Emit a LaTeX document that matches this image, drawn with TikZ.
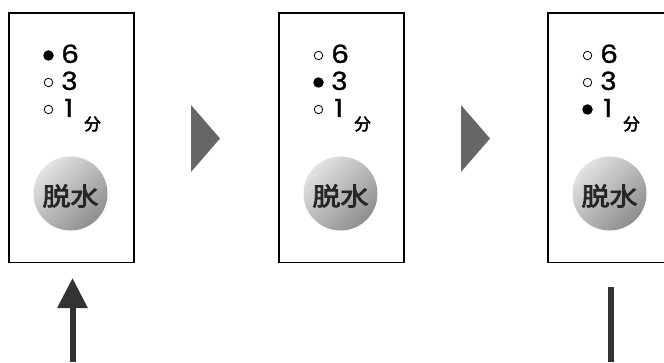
\documentclass[tikz,border=0pt]{standalone}
\usepackage{fontspec}
\usepackage{graphicx}
\setmainfont{Poppins}
\newfontfamily\digitfont[FakeBold=1.2]{Poppins}
\newfontfamily\jp{Noto Sans CJK JP}
\newfontfamily\jpm[FakeBold=3]{Noto Sans CJK JP}
\usetikzlibrary{arrows.meta}
\definecolor{btnlight}{HTML}{E2E2E2}
\definecolor{btndark}{HTML}{8E8E8E}
\definecolor{trigray}{HTML}{666666}
\definecolor{arrowgray}{HTML}{333333}
\tikzset{
 panel/.style={draw=black, line width=1.5pt, inner sep=0pt, minimum width=125pt, minimum height=249pt, anchor=south west},
 dotfill/.style={circle, fill=black, inner sep=0pt, minimum size=10.5pt},
 dotopen/.style={circle, draw=black, line width=0.8pt, inner sep=0pt, minimum size=8.5pt},
 digit/.style={anchor=base west, inner sep=0pt, font=\digitfont\fontsize{25}{25}\selectfont},
 unit/.style={inner sep=0pt, font=\jpm\fontsize{16.5}{17}\selectfont},
 button/.style={circle, minimum size=74pt, inner sep=0pt, top color=btnlight, bottom color=btndark, shading angle=45},
 label/.style={font=\jpm\fontsize{25}{25}\selectfont, inner sep=0pt, text=black!85},
 pointer/.style={fill=trigray, draw=none},
 flow/.style={draw=arrowgray, line width=6pt},
}
\begin{document}
\begin{tikzpicture}[x=1pt,y=1pt]
\useasboundingbox (0,0) rectangle (664,362);
\foreach \i/\dx/\act in {1/0/1,2/270/2,3/539/3}{
  \begin{scope}[xshift=\dx pt]
    \node[panel] (box\i) at (8,99) {};
    \foreach \r/\d/\by/\dxx in {1/6/299/61,2/3/272/61,3/1/245/64}{
      \ifnum\r=\act \def\sty{dotfill}\else\def\sty{dotopen}\fi
      \node[\sty] (dot\i\r) at (48.5,\by+7.5) {};
      \node[digit] (num\i\r) at (\dxx,\by) {\scalebox{1.12}[1]{\d}};
    }
    \node[unit] (unit\i) at (92.5,238) {分};
    \node[button] (btn\i) at (70.5,168.5) {};
    \node[label] (lbl\i) at (70.5,166) {\scalebox{1.12}[1]{脱水}};
  \end{scope}
}
\fill[pointer] (191,257) -- (191,190) -- (220,223.5) -- cycle;
\fill[pointer] (461,257) -- (461,190) -- (490,223.5) -- cycle;
\coordinate (a0) at (72.5,0);
\coordinate (a1) at (72.5,84);
\draw[flow, -{Triangle[length=30pt,width=29pt]}] (a0) -- (a1);
\coordinate (l0) at (611,0);
\coordinate (l1) at (611,75);
\draw[flow] (l0) -- (l1);
\end{tikzpicture}
\end{document}
